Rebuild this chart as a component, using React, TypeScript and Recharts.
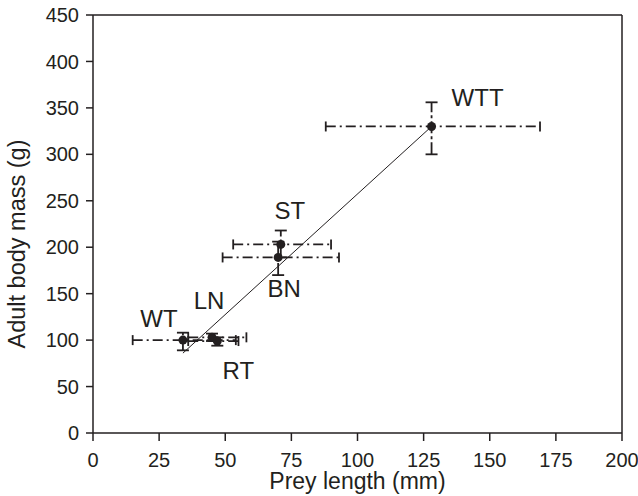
import {
  ErrorBar,
  LabelList,
  ReferenceLine,
  Scatter,
  ScatterChart,
  XAxis,
  YAxis,
} from "recharts";

// species / population codes
const names = ["WT", "LN", "RT", "ST", "BN", "WTT"];
// prey length (mm)
const preyLength = [34, 45, 47, 71, 70, 128];
// adult body mass (g)
const bodyMass = [100, 103, 99, 203, 189, 330];
// error bars [below, above]
const lengthErr = [
  [19, 20],
  [9, 13],
  [11, 8],
  [18, 19],
  [21, 23],
  [40, 41],
];
const massErr = [
  [11, 8],
  [4, 4],
  [5, 4],
  [14, 15],
  [19, 17],
  [30, 26],
];
// fitted line ends
const fitLength = [34, 128];
const fitMass = [86, 330];

const xTicks = [0, 25, 50, 75, 100, 125, 150, 175, 200];
const yTicks = [0, 50, 100, 150, 200, 250, 300, 350, 400, 450];

const points = names.map((name, i) => ({
  name,
  x: preyLength[i],
  y: bodyMass[i],
  xErr: lengthErr[i],
  yErr: massErr[i],
}));
const fit = fitLength.map((x, i) => ({ x, y: fitMass[i] }));

// label offsets from each point, in px
const labelShift: Record<string, [number, number]> = {
  WT: [-24, -22],
  LN: [-3, -37],
  RT: [21, 29],
  ST: [9, -34],
  BN: [6, 31],
  WTT: [46, -29],
};

const FONT = "'Liberation Sans', Arial, Helvetica, sans-serif";
const INK = "#231f20";

function PointLabel(props: any) {
  const { x, y, width, height, value } = props;
  const cx = x + (width || 0) / 2;
  const cy = y + (height || 0) / 2;
  const [dx, dy] = labelShift[value] || [0, 0];
  return (
    <text
      x={cx + dx}
      y={cy + dy}
      textAnchor="middle"
      dominantBaseline="central"
      fontSize={24}
      fontFamily={FONT}
      fill={INK}
    >
      {value}
    </text>
  );
}

function YTitle() {
  return (
    <text
      x={25}
      y={244}
      transform="rotate(-90, 25, 244)"
      textAnchor="middle"
      fontSize={23.5}
      fontFamily={FONT}
      fill={INK}
    >
      Adult body mass (g)
    </text>
  );
}

export default function App() {
  return (
    <div style={{ position: "absolute", left: 0, top: 0, background: "#fff" }}>
      <ScatterChart
        width={638}
        height={496}
        margin={{ top: 15, right: 16, bottom: 0, left: 0 }}
        style={{ fontFamily: FONT }}
      >
        <XAxis
          type="number"
          dataKey="x"
          domain={[0, 200]}
          ticks={xTicks}
          height={63}
          interval={0}
          stroke={INK}
          strokeWidth={1.5}
          tickSize={8}
          tickMargin={12}
          tick={{ fill: INK, fontSize: 20 }}
          label={{
            value: "Prey length (mm)",
            position: "insideBottom",
            offset: 7,
            fill: INK,
            fontSize: 23,
          }}
        />
        <YAxis
          type="number"
          dataKey="y"
          domain={[0, 450]}
          ticks={yTicks}
          width={93}
          interval={0}
          stroke={INK}
          strokeWidth={1.5}
          tickSize={7}
          tickMargin={7}
          tick={{ fill: INK, fontSize: 20 }}
          label={<YTitle />}
        />
        <ReferenceLine y={450} stroke={INK} strokeWidth={1.5} />
        <ReferenceLine x={200} stroke={INK} strokeWidth={1.5} />
        <Scatter
          data={fit}
          line={{ stroke: INK, strokeWidth: 1 }}
          shape={() => <g />}
          isAnimationActive={false}
        />
        <Scatter
          data={points}
          fill={INK}
          isAnimationActive={false}
          shape={(p: any) => <circle cx={p.cx} cy={p.cy} r={4.5} fill={INK} />}
        >
          <ErrorBar
            dataKey="xErr"
            direction="x"
            width={5}
            stroke={INK}
            strokeWidth={1.8}
            strokeDasharray="10 4 2 4"
            isAnimationActive={false}
          />
          <ErrorBar
            dataKey="yErr"
            direction="y"
            width={6}
            stroke={INK}
            strokeWidth={1.8}
            strokeDasharray="12 3 3 3"
            isAnimationActive={false}
          />
          <LabelList dataKey="name" content={PointLabel} />
        </Scatter>
      </ScatterChart>
    </div>
  );
}
